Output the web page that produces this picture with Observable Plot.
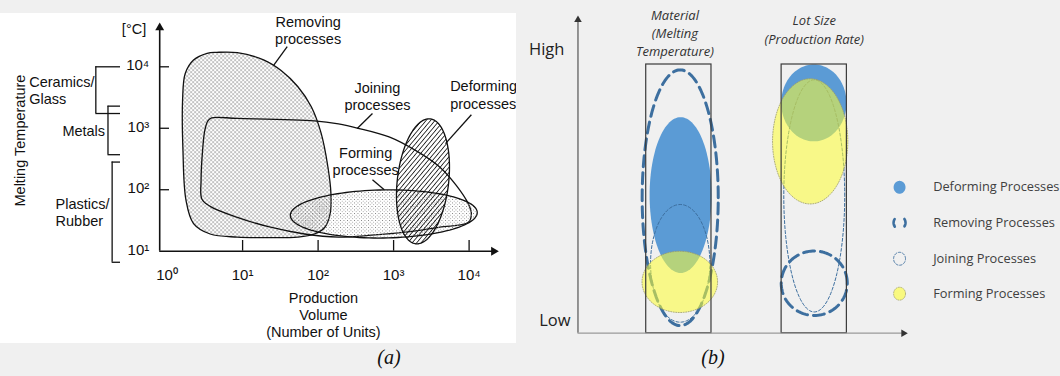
<!DOCTYPE html>
<html><head><meta charset="utf-8">
<script src="https://cdn.jsdelivr.net/npm/d3@7"></script>
<script src="https://cdn.jsdelivr.net/npm/@observablehq/plot@0.6"></script>
<style>
body{margin:0;background:#f0f0f0;}
#wrap{position:relative;width:1060px;height:376px;overflow:hidden;}
#pa{position:absolute;left:0;top:13px;}
#pb{position:absolute;left:516px;top:0;}
.cap{position:absolute;top:346px;font-family:"Liberation Serif","DejaVu Serif",serif;font-style:italic;font-size:20px;color:#111;width:60px;text-align:center;line-height:23px;}
</style></head><body>
<div id="wrap"><div id="pa"></div><div id="pb"></div>
<div class="cap" style="left:359px">(a)</div><div class="cap" style="left:683px">(b)</div></div>
<script>
// ---------- Panel (a) data: outlines in decades [log10(production volume), log10(melting temp °C)] ----------
const removingOutline = [[0.66,4.235],[0.93,4.23],[1.285,4.11],[1.51,3.94],[1.73,3.68],[1.91,3.35],[2.04,2.92],[2.13,2.37],[2.17,1.94],[2.16,1.61],[2.09,1.39],[1.95,1.28],[1.73,1.23],[1.37,1.22],[0.93,1.23],[0.57,1.28],[0.35,1.45],[0.25,1.83],[0.21,2.64],[0.205,3.46],[0.24,3.89],[0.35,4.11],[0.53,4.22]];
const joiningOutline = [[0.59,3.17],[0.93,3.16],[1.95,3.12],[2.27,3.07],[2.53,3.0],[2.94,2.86],[3.29,2.64],[3.61,2.37],[3.83,2.07],[3.99,1.77],[4.03,1.61],[3.99,1.47],[3.61,1.39],[3.16,1.31],[2.71,1.26],[2.27,1.23],[1.82,1.28],[1.37,1.39],[0.93,1.55],[0.57,1.73],[0.46,1.85],[0.45,2.15],[0.47,2.64],[0.5,2.97],[0.54,3.12]];
const formingEllipse = {cx:2.87, cy:1.606, rx:1.236, ry:0.392, tilt:0.07};
const deformingEllipse = {cx:3.389, cy:2.137, rx:0.342, ry:1.017, tilt:0.08};
const xTickExp = [0,1,2,3,4];
const yTickExp = [1,2,3,4];
const materialClasses = ["Ceramics/\nGlass","Metals","Plastics/\nRubber"];
const materialLowExp = [3.24, 2.57, 0.82];
const materialHighExp = [4.0, 3.36, 2.45];
const annotationTexts = ["Removing\nprocesses","Joining\nprocesses","Forming\nprocesses","Deforming\nprocesses"];

// ---------- Panel (b) data ----------
const columns = ["Material\n(Melting\nTemperature)","Lot Size\n(Production Rate)"];
const processes = ["Deforming Processes","Removing Processes","Joining Processes","Forming Processes"];
// ranges on the Low (0) – High (1) scale
const materialLow  = [0.224, 0.028, 0.041, 0.077];
const materialHigh = [0.804, 0.980, 0.479, 0.305];
const lotLow  = [0.714, 0.066, 0.079, 0.481];
const lotHigh = [1.000, 0.306, 0.943, 0.947];
const materialHalfWidth = [0.229, 0.281, 0.219, 0.279];
const lotHalfWidth = [0.241, 0.244, 0.225, 0.278];
const materialShift = [0.013, 0.010, 0.010, 0.007];
const lotShift = [-0.003, 0, 0, -0.030];

// ---------- helpers ----------
const L = v => 10 ** v;
const sup = ["⁰","¹","²","³","⁴"];
function ellipse(cx, cy, rx, ry, tilt = 0, n = 120) {
  return d3.range(n).map(i => { const t = 2 * Math.PI * i / n;
    return {x: cx + rx * Math.cos(t) + tilt * Math.sin(t), y: cy + ry * Math.sin(t)}; });
}
const toLog = p => ({x: L(p.x), y: L(p.y)});

// ================= Panel (a) =================
const fontA = '"Liberation Sans", Arial, Helvetica, sans-serif';
const removingPts = removingOutline.map(([a,b]) => ({x: L(a), y: L(b)}));
const joiningPts = joiningOutline.map(([a,b]) => ({x: L(a), y: L(b)}));
const formingPts = ellipse(formingEllipse.cx, formingEllipse.cy, formingEllipse.rx, formingEllipse.ry, formingEllipse.tilt).map(toLog);
const deformingPts = ellipse(deformingEllipse.cx, deformingEllipse.cy, deformingEllipse.rx, deformingEllipse.ry, deformingEllipse.tilt).map(toLog);

const axX = L(-0.098);               // y-axis position (just left of 10^0)
const bracketX = [L(-0.944), L(-0.783), L(-0.728)];
const bracketEnd = L(-0.617);
const labelX = [L(-1.826), L(-1.387), L(-1.477)];
const annX = [1.868, 2.786, 2.63, 3.749];
const annY = [4.603, 3.525, 2.463, 3.549];
const leaders = [[1.591,4.328,1.413,4.029],[2.72,3.24,2.518,2.995],[2.72,2.164,2.876,1.998],[4.03,3.22,3.687,2.75]];
const txt = {fill:"#111", fontSize:14.5, lineHeight:1.18};
const centered = annotationTexts.slice(0, 3);
const leftAligned = annotationTexts.slice(3);

const plotA = Plot.plot({
  width: 516, height: 330, margin: 0,
  style: {background:"white", fontFamily: fontA, fontSize:"14.5px", color:"#111", overflow:"hidden"},
  x: {type:"log", domain:[1,1e4], range:[166.6,468.6], axis:null},
  y: {type:"log", domain:[10,1e4], range:[237.7,53.3], axis:null},
  marks: [
    Plot.line(removingPts, {x:"x", y:"y", curve:"catmull-rom-closed", fill:"url(#xh)", stroke:"#111", strokeWidth:1.3}),
    Plot.line(joiningPts, {x:"x", y:"y", curve:"catmull-rom-closed", fill:"none", stroke:"#111", strokeWidth:1.3}),
    Plot.line(formingPts, {x:"x", y:"y", curve:"linear-closed", fill:"url(#dt)", stroke:"#111", strokeWidth:1.3}),
    Plot.line(deformingPts, {x:"x", y:"y", curve:"linear-closed", fill:"url(#hh)", stroke:"#111", strokeWidth:1.3}),
    // axes
    Plot.ruleX([axX], {y1:10, y2:L(4.64), stroke:"#111", strokeWidth:1.6}),
    Plot.dot([0], {x:axX, y:L(4.636), symbol:"triangle", r:3.3, fill:"#111", stroke:"none"}),
    Plot.ruleY([10], {x1:axX, x2:L(4.33), stroke:"#111", strokeWidth:1.6}),
    Plot.dot([0], {x:L(4.326), y:10, symbol:"triangle", r:3.3, rotate:90, fill:"#111", stroke:"none"}),
    Plot.ruleY(yTickExp.filter(d => d > 1).map(L), {x1:axX, x2:L(0.032), stroke:"#111", strokeWidth:1.3}),
    Plot.ruleX(xTickExp.filter(d => d > 0).map(L), {y1:10, y2:L(1.174), stroke:"#111", strokeWidth:1.3}),
    Plot.text(xTickExp, {x: d => L(d), y:10, dy:23, text: d => "10" + sup[d], ...txt, fontSize:15}),
    Plot.text(yTickExp, {x: L(-0.236), y: d => L(d), dy:-2, textAnchor:"end", text: d => "10" + sup[d], ...txt, fontSize:15}),
    Plot.text(["[°C]"], {x: L(-0.438), y: L(4.618), ...txt}),
    Plot.text(["Melting Temperature"], {x: L(-1.96), y: L(2.8), rotate:-90, ...txt}),
    Plot.text(["Production\nVolume\n(Number of Units)"], {x: L(2.07), y:10, dy:63.3, ...txt, lineHeight:1.2}),
    // material class brackets
    Plot.ruleX(materialClasses, {x:(d,i) => bracketX[i], y1:(d,i) => L(materialLowExp[i]), y2:(d,i) => L(materialHighExp[i]), stroke:"#111", strokeWidth:1.3}),
    Plot.ruleY(materialClasses, {y:(d,i) => L(materialLowExp[i]), x1:(d,i) => bracketX[i], x2:bracketEnd, stroke:"#111", strokeWidth:1.3}),
    Plot.ruleY(materialClasses, {y:(d,i) => L(materialHighExp[i]), x1:(d,i) => bracketX[i], x2:bracketEnd, stroke:"#111", strokeWidth:1.3}),
    Plot.text(materialClasses, {x:(d,i) => labelX[i], y:(d,i) => L((materialLowExp[i] + materialHighExp[i]) / 2), textAnchor:"start", ...txt}),
    // process annotations
    Plot.link(leaders, {x1: d => L(d[0]), y1: d => L(d[1]), x2: d => L(d[2]), y2: d => L(d[3]), stroke:"#111", strokeWidth:1.3}),
    Plot.text(centered, {x:(d,i) => L(annX[i]), y:(d,i) => L(annY[i]), textAnchor:"middle", ...txt}),
    Plot.text(leftAligned, {x: L(annX[3]), y: L(annY[3]), textAnchor:"start", ...txt})
  ]
});
// fill patterns
{
  const defs = d3.select(plotA).insert("defs", ":first-child");
  const xh = defs.append("pattern").attr("id","xh").attr("width",4).attr("height",4).attr("patternUnits","userSpaceOnUse");
  xh.append("rect").attr("x",0).attr("y",0).attr("width",1.2).attr("height",1.2).attr("fill","#555");
  xh.append("rect").attr("x",2).attr("y",2).attr("width",1.2).attr("height",1.2).attr("fill","#555");
  const dt = defs.append("pattern").attr("id","dt").attr("width",3.5).attr("height",3.5).attr("patternUnits","userSpaceOnUse");
  dt.append("rect").attr("x",0).attr("y",0).attr("width",0.9).attr("height",0.9).attr("fill","#777");
  dt.append("rect").attr("x",1.75).attr("y",1.75).attr("width",0.9).attr("height",0.9).attr("fill","#999");
  const hh = defs.append("pattern").attr("id","hh").attr("width",3.4).attr("height",3.4).attr("patternUnits","userSpaceOnUse").attr("patternTransform","rotate(40)");
  hh.append("line").attr("x1",0).attr("y1",0).attr("x2",0).attr("y2",3.4).attr("stroke","#111").attr("stroke-width",1.6);
}
document.getElementById("pa").appendChild(plotA);

// ================= Panel (b) =================
const colX = [1, 2];
const halfRect = 0.241;
const shapesB = [];
processes.forEach((p, i) => {
  [[materialLow, materialHigh, materialHalfWidth, materialShift], [lotLow, lotHigh, lotHalfWidth, lotShift]].forEach(([lo, hi, hw, sh], c) => {
    const cy = (lo[i] + hi[i]) / 2, ry = (hi[i] - lo[i]) / 2;
    ellipse(colX[c] + sh[i], cy, hw[i], ry).forEach(pt => shapesB.push({...pt, process:p, id:p + c}));
  });
});
const styleB = {
  "Deforming Processes": {fill:"#5b9bd5", stroke:"none"},
  "Removing Processes": {fill:"none", stroke:"#3d6f9f", strokeWidth:3, strokeDasharray:"11,6"},
  "Joining Processes": {fill:"none", stroke:"#3d6f9f", strokeWidth:1, strokeDasharray:"3,2"},
  "Forming Processes": {fill:"#ffff33", fillOpacity:0.55, stroke:"#9c9c6a", strokeWidth:0.8, strokeDasharray:"1,1.5"}
};
const legendStyle = {
  "Deforming Processes": {fill:"#5b9bd5", stroke:"none"},
  "Removing Processes": {fill:"none", stroke:"#3d6f9f", strokeWidth:2.6, strokeDasharray:"8,11.6", strokeDashoffset:4},
  "Joining Processes": {fill:"none", stroke:"#3d6f9f", strokeWidth:1, strokeDasharray:"2.4,1.8"},
  "Forming Processes": {fill:"#ffff33", fillOpacity:0.6, stroke:"#9c9c6a", strokeWidth:0.8, strokeDasharray:"1,1.5"}
};
const legendY = [0.543, 0.411, 0.277, 0.147];
const legendPts = [];
processes.forEach((p, i) => ellipse(2.63, legendY[i], 0.044, 0.024).forEach(pt => legendPts.push({...pt, process:p})));
const fontB = '"Open Sans", "Noto Sans", sans-serif';
const titleShift = [-0.029, 0];
const titleY = [1.121, 1.133];

const plotB = Plot.plot({
  width: 544, height: 345, margin: 0,
  style: {background:"transparent", fontFamily: fontB, fontSize:"12.5px", color:"#404040", overflow:"visible"},
  x: {type:"linear", domain:[1,2], range:[162.35,297.75], axis:null},
  y: {type:"linear", domain:[0,1], range:[332.7,64], axis:null},
  marks: [
    ...processes.map(p => Plot.line(shapesB.filter(d => d.process === p), {x:"x", y:"y", z:"id", curve:"linear-closed", ...styleB[p]})),
    Plot.rect(colX, {x1: d => d - halfRect, x2: d => d + halfRect, y1:0, y2:1, fill:"none", stroke:"#3a3a3a", strokeWidth:1.2}),
    // axes
    Plot.ruleX([0.255], {y1:0, y2:1.17, stroke:"#555", strokeWidth:1.2}),
    Plot.dot([0], {x:0.255, y:1.166, symbol:"triangle", r:2.8, fill:"#333", stroke:"none"}),
    Plot.ruleY([0], {x1:0.255, x2:2.65, stroke:"#9a9a9a", strokeWidth:1.2}),
    Plot.dot([0], {x:2.659, y:0, symbol:"triangle", r:2.8, rotate:90, fill:"#333", stroke:"none"}),
    Plot.text(["High","Low"], {x:[0.155,0.2], y:[1.056,0.047], textAnchor:"end", fontSize:16.5, fill:"#222"}),
    Plot.text(columns, {x:(d,i) => colX[i] + titleShift[i], y:(d,i) => titleY[i], fontStyle:"italic", fontSize:13, lineHeight:1.4, fill:"#333"}),
    // legend
    ...processes.map(p => Plot.line(legendPts.filter(d => d.process === p), {x:"x", y:"y", curve:"linear-closed", ...legendStyle[p]})),
    Plot.text(processes, {x:2.878, y:(d,i) => legendY[i], textAnchor:"start", fontSize:12.8, fill:"#404040"})
  ]
});
document.getElementById("pb").appendChild(plotB);
</script></body></html>
